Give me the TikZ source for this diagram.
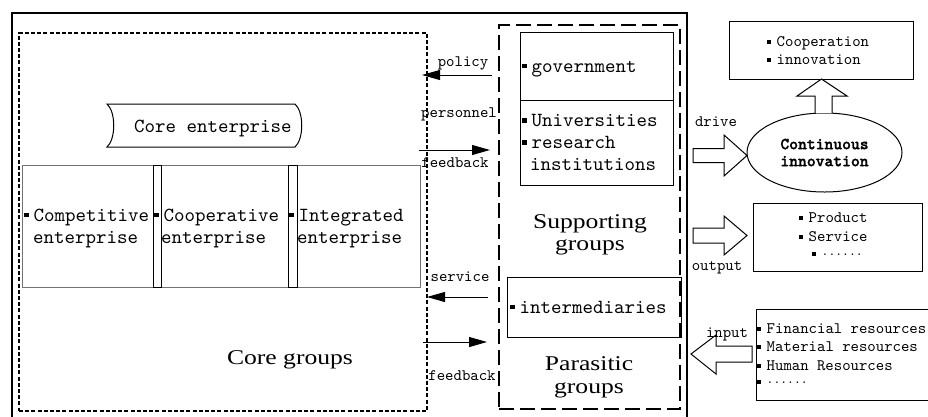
\documentclass[tikz,border=0pt]{standalone}
\usepackage{fontspec}
\setmainfont{Liberation Serif}
\newfontfamily\monof{lmmono10-regular.otf}[BoldFont=lmmonolt10-bold.otf]
\newfontfamily\monobf{lmmonolt10-bold.otf}[FakeBold=1.5]
\newfontfamily\grpf[FakeStretch=1.22]{Liberation Serif}
\usetikzlibrary{arrows.meta,shapes.geometric}
\newcommand\bulA{\rule[4pt]{4.5pt}{4.5pt}\hspace{5pt}}
\newcommand\bulB{\rule[2.5pt]{3.5pt}{3.5pt}\hspace{6pt}}
\newcommand\dotsA{\raisebox{3pt}{\fontsize{13}{13}\selectfont......}}
\begin{document}
\begin{tikzpicture}[x=1pt,y=-1pt,
 box/.style={draw, rectangle, inner sep=0pt, line width=1pt},
 ebox/.style={draw=black!55, rectangle, inner sep=0pt, line width=1pt},
 bigt/.style={inner sep=0pt, anchor=base west, font=\monof\fontsize{20}{22}\selectfont},
 smt/.style={inner sep=0pt, anchor=base west, font=\monof\fontsize{16}{18}\selectfont},
 lbl/.style={inner sep=0pt, anchor=base, font=\monof\fontsize{16}{18}\selectfont},
 grpt/.style={inner sep=0pt, anchor=base, font=\grpf\fontsize{21}{22}\selectfont},
 conn/.style={line width=1pt, -{Triangle[length=18pt,width=10pt]}},
 blk/.style={draw, fill=white, line width=1pt, line join=miter},
]
\useasboundingbox (0,0) rectangle (928,416);

% frames
\node[box, line width=2pt, minimum width=675pt, minimum height=427pt] (outer) at (349.5,226.5) {};
\node[draw, inner sep=0pt, line width=2.2pt, dash pattern=on 4pt off 2.2pt,
      minimum width=408pt, minimum height=378pt] (core) at (223,222) {};
\node[draw, inner sep=0pt, line width=2.2pt, dash pattern=on 15pt off 6pt,
      minimum width=181pt, minimum height=384pt] (supp) at (589.5,217) {};

% supporting boxes
\node[box, minimum width=153pt, minimum height=68pt] (gov) at (596.5,66) {};
\node[box, minimum width=153pt, minimum height=85pt] (uni) at (596.5,142.5) {};
\node[box, minimum width=174pt, minimum height=60pt] (inter) at (594,307) {};

\node[bigt] (govt) at (522,72) {\bulA government};
\node[bigt] (unit1) at (522,126.5) {\bulA Universities};
\node[bigt] (unit2) at (522,148.5) {\bulA research};
\node[bigt] (unit3) at (530,170.5) {institutions};
\node[bigt] (intert) at (510,313) {\bulA intermediaries};

% core enterprise banner
\draw[line width=1pt, fill=white] (107,104) -- (295,104)
  .. controls (304,112) and (304,139) .. (295,147) -- (107,147)
  .. controls (116,139) and (116,112) .. (107,104) -- cycle;
\node[bigt] (cet) at (134,132) {Core enterprise};

% enterprise boxes
\node[ebox, minimum width=131pt, minimum height=122pt] (ent1) at (87.5,226) {};
\node[ebox, minimum width=127pt, minimum height=122pt] (ent2) at (224.5,226) {};
\node[ebox, minimum width=123pt, minimum height=122pt] (ent3) at (358.5,226) {};
\node[box, minimum width=8pt, minimum height=122pt] (bar1) at (157,226) {};
\node[box, minimum width=9pt, minimum height=122pt] (bar2) at (292.5,226) {};

\node[bigt] (e1a) at (24,221) {\bulA Competitive};
\node[bigt] (e1b) at (33,243) {enterprise};
\node[bigt] (e2a) at (154,221) {\bulA Cooperative};
\node[bigt] (e2b) at (161,243) {enterprise};
\node[bigt] (e3a) at (289,221) {\bulA Integrated};
\node[bigt] (e3b) at (297,243) {enterprise};

% group labels
\node[grpt] (cg) at (290,364) {Core groups};
\node[grpt] (sg1) at (590,228) {Supporting};
\node[grpt] (sg2) at (590,250) {groups};
\node[grpt] (pg1) at (589,370) {Parasitic};
\node[grpt] (pg2) at (589,393) {groups};

% thin arrows
\coordinate (pa) at (492,75);  \coordinate (pb) at (422,75);
\coordinate (fa) at (419,150); \coordinate (fb) at (490,150);
\coordinate (sa) at (488,297); \coordinate (sb) at (427,297);
\coordinate (ga) at (423,342); \coordinate (gb) at (487,342);
\draw[conn] (pa) -- (pb);
\draw[conn] (fa) -- (fb);
\draw[conn] (sa) -- (sb);
\draw[conn] (ga) -- (gb);

\node[lbl] (lpol) at (463,66) {policy};
\node[lbl] (lper) at (459,117) {personnel};
\node[lbl] (lfb1) at (455,167) {feedback};
\node[lbl] (lser) at (460,281) {service};
\node[lbl] (lfb2) at (462,380) {feedback};

% right side
\node[box, minimum width=184pt, minimum height=58pt] (coop) at (821,50) {};
\node[smt] (coopa) at (767,46) {\bulB Cooperation};
\node[smt] (coopb) at (767,64) {\bulB innovation};

\node[ellipse, draw, line width=1pt, minimum width=155pt, minimum height=79pt,
      inner sep=0pt, align=center,
      font=\monobf\fontsize{16.8}{17}\selectfont] (ci) at (824.5,152.5) {Continuous\\innovation};

\node[box, minimum width=169pt, minimum height=68pt] (prod) at (837.5,237) {};
\node[smt] (proda) at (799,222) {\bulB Product};
\node[smt] (prodb) at (799,241) {\bulB Service};
\node[smt] (prodc) at (812,258) {\bulB\dotsA};

\node[box, minimum width=204pt, minimum height=91pt] (res) at (858,354.5) {};
\node[smt] (resa) at (757,333) {\bulB Financial resources};
\node[smt] (resb) at (757,351) {\bulB Material resources};
\node[smt] (resc) at (757,370) {\bulB Human Resources};
\node[smt] (resd) at (757,386) {\bulB\dotsA};

% block arrows
\draw[blk] (693,148.5) -- (724,148.5) -- (724,135) -- (747,155.5) -- (724,176) -- (724,162.5) -- (693,162.5) -- cycle;
\draw[blk] (693,228) -- (724,228) -- (724,216) -- (747,235.5) -- (724,255) -- (724,243) -- (693,243) -- cycle;
\draw[blk] (752,346) -- (716,346) -- (716,335) -- (691,354) -- (716,374) -- (716,362) -- (752,362) -- cycle;
\draw[blk] (815,113) -- (815,96) -- (797,96) -- (821.5,79) -- (847,96) -- (832,96) -- (832,113);

\node[lbl] (ldrv) at (716,126) {drive};
\node[lbl] (lout) at (717,270) {output};
\node[lbl] (linp) at (727,337) {input};
\end{tikzpicture}
\end{document}
